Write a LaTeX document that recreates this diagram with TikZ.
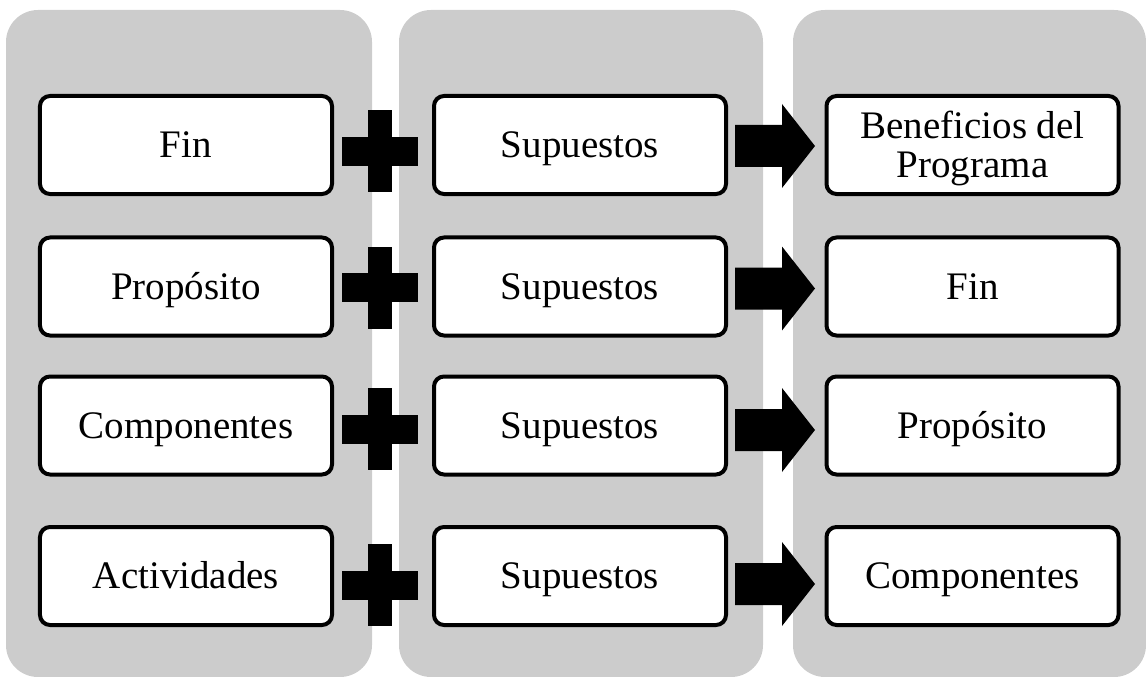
\documentclass[tikz,border=0pt]{standalone}
\usepackage{fontspec}
\setmainfont{Liberation Serif}
\definecolor{colgray}{RGB}{204,204,204}
\begin{document}
\begin{tikzpicture}[x=1bp,y=-1bp,
  column/.style={fill=colgray, rounded corners=32bp},
  item/.style={draw=black, fill=white, line width=4bp, rounded corners=10bp,
    minimum width=292bp, minimum height=98bp, inner sep=0pt, align=center,
    text height=25bp, text depth=0pt,
    font=\fontsize{39bp}{39bp}\selectfont},
  solid/.style={fill=black}]
\useasboundingbox (0,0) rectangle (1146,677);
% columns
\fill[column] (6,10) rectangle (372,677);
\fill[column] (399,10) rectangle (763,677);
\fill[column] (793,10) rectangle (1146,677);
% rows
\foreach \i/\cy/\py/\ay/\ta/\tc in {2/286.5/287.5/288.5/Propósito/Fin,
    3/425.5/429/430/Componentes/Propósito,
    4/576/585/584/Actividades/Componentes}{
  \node[item] (a\i) at (186,\cy) {\ta};
  \node[item] (s\i) at (580,\cy) {Supuestos};
  \node[item] (r\i) at (972.5,\cy) {\tc};
  \fill[solid] (368,\py-41) rectangle (392,\py+41);
  \fill[solid] (342,\py-14.5) rectangle (418,\py+14.5);
  \fill[solid] (735,\ay-21) -- (782,\ay-21) -- (782,\ay-42) -- (815,\ay)
     -- (782,\ay+42) -- (782,\ay+21) -- (735,\ay+21) -- cycle;
}
% first row
\node[item] (a1) at (186,145) {Fin};
\node[item] (s1) at (580,145) {Supuestos};
\node[item, text height=64bp] (r1) at (972.5,145) {Beneficios del\\Programa};
\fill[solid] (368,151.5-41) rectangle (392,151.5+41);
\fill[solid] (342,151.5-14.5) rectangle (418,151.5+14.5);
\fill[solid] (735,146-21) -- (782,146-21) -- (782,146-42) -- (815,146)
   -- (782,146+42) -- (782,146+21) -- (735,146+21) -- cycle;
\end{tikzpicture}
\end{document}
